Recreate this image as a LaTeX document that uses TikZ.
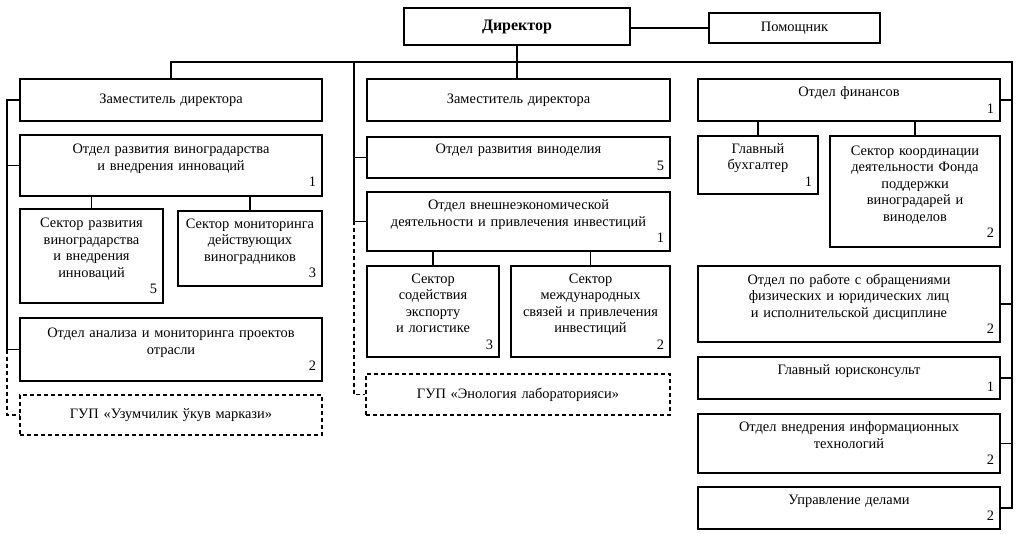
\documentclass[tikz,border=0pt]{standalone}
\usepackage{fontspec}
\setmainfont{Liberation Serif}
\usetikzlibrary{positioning}

\begin{document}
\begin{tikzpicture}[x=1pt, y=-1pt,
        unit/.style={draw=black, line width=1.1pt, rectangle, align=center, inner xsep=6pt, inner ysep=0pt, font=\fontsize{14.4}{16.5}\selectfont},
        headbox/.style={unit, line width=2.6pt, font=\fontsize{16}{18}\selectfont\bfseries},
        gupbox/.style={unit, dash pattern=on 4pt off 3pt},
        edge/.style={line width=1.1pt},
        dashedge/.style={edge, dash pattern=on 4pt off 3pt}
    ]
    \useasboundingbox (0,0) rectangle (1019,534);

    % top
    \node[headbox, text width=214, minimum height=37] (dir) at (517,26.5) {Директор};
    \node[unit, text width=159, minimum height=30] (pom) at (794.5,28) {Помощник};

    % left column
    \node[unit, text width=290, minimum height=42] (depL) at (171,100) {Заместитель директора};
    \node[unit, text width=290, minimum height=61] (vinL) at (171,165.5) {Отдел развития виноградарства\\и внедрения инноваций\\\mbox{}\hfill 1};
    \node[unit, text width=131, minimum height=94] (secVin) at (91.5,256) {Сектор развития\\виноградарства\\и внедрения\\инноваций\\\mbox{}\hfill 5};
    \node[unit, text width=132, minimum height=75] (secMon) at (250,248.5) {Сектор мониторинга\\действующих\\виноградников\\\mbox{}\hfill 3};
    \node[unit, text width=290, minimum height=63] (anaL) at (171,349.5) {Отдел анализа и мониторинга проектов\\отрасли\\\mbox{}\hfill 2};
    \node[gupbox, text width=290, minimum height=40] (gupL) at (171,415) {ГУП «Узумчилик ўкув маркази»};

    % middle column
    \node[unit, text width=291, minimum height=42] (depM) at (518.5,100) {Заместитель директора};
    \node[unit, text width=291, minimum height=41] (wineM) at (518.5,157.5) {Отдел развития виноделия\\\mbox{}\hfill 5};
    \node[unit, text width=291, minimum height=59] (fecM) at (518.5,221.5) {Отдел внешнеэкономической\\деятельности и привлечения инвестиций\\\mbox{}\hfill 1};
    \node[unit, text width=120, minimum height=91] (secExp) at (433,311.5) {Сектор\\содействия\\экспорту\\и логистике\\\mbox{}\hfill 3};
    \node[unit, text width=147, minimum height=91] (secInt) at (590.5,311.5) {Сектор\\международных\\связей и привлечения\\инвестиций\\\mbox{}\hfill 2};
    \node[gupbox, text width=292, minimum height=41] (gupM) at (518,394.5) {ГУП «Энология лабораторияси»};

    % right column
    \node[unit, text width=290, minimum height=42] (finR) at (849,100) {Отдел финансов\\\mbox{}\hfill 1};
    \node[unit, text width=108, minimum height=58] (accR) at (758,165) {Главный\\бухгалтер\\\mbox{}\hfill 1};
    \node[unit, text width=158, minimum height=111] (fundR) at (915,191.5) {Сектор координации\\деятельности Фонда\\поддержки\\виноградарей и\\виноделов\\\mbox{}\hfill 2};
    \node[unit, text width=290, minimum height=76] (appR) at (849,304) {Отдел по работе с обращениями\\физических и юридических лиц\\и исполнительской дисциплине\\\mbox{}\hfill 2};
    \node[unit, text width=290, minimum height=42] (lawR) at (849,378) {Главный юрисконсульт\\\mbox{}\hfill 1};
    \node[unit, text width=290, minimum height=59] (itR) at (849,443.5) {Отдел внедрения информационных\\технологий\\\mbox{}\hfill 2};
    \node[unit, text width=290, minimum height=42] (admR) at (849,508) {Управление делами\\\mbox{}\hfill 2};

    % bus corners
    \coordinate (busTop) at (1012,62);
    \coordinate (busM) at (354,62);
    \coordinate (busL) at (7,99);

    % edges
    \draw[edge] (pom.west -| dir.east) -- (pom.west);
    \draw[edge] (dir.south) -- (dir.south |- depM.north);
    \draw[edge] (depL.north) |- (busTop) |- (admR.east);
    \draw[edge] (busM) |- (fecM.west);
    \draw[edge] (wineM.west) -- (wineM.west -| busM);
    \draw[edge] (depL.west) -- (depL.west -| busL) |- (anaL.west);
    \draw[edge] (vinL.west) -- (vinL.west -| busL);
    \draw[dashedge] (anaL.west -| busL) |- (gupL.west);
    \draw[dashedge] (fecM.west -| busM) |- (gupM.west);
    \foreach \n in {finR, appR, lawR, itR}
        \draw[edge] (\n.east) -- (\n.east -| busTop);
    \foreach \n in {secVin, secMon}
        \draw[edge] (\n.north) -- (\n.north |- vinL.south);
    \foreach \n in {secExp, secInt}
        \draw[edge] (\n.north) -- (\n.north |- fecM.south);
    \foreach \n in {accR, fundR}
        \draw[edge] (\n.north) -- (\n.north |- finR.south);

\end{tikzpicture}
\end{document}
